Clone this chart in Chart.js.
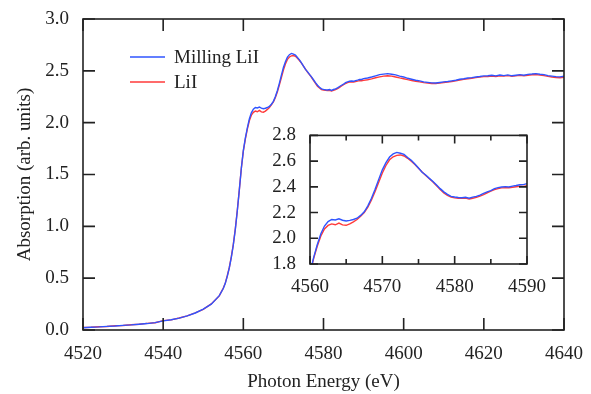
<!DOCTYPE html>
<html>
<head>
<meta charset="utf-8">
<script src="https://cdn.jsdelivr.net/npm/chart.js@4"></script>
<style>
  html, body { margin: 0; padding: 0; background: #fff; }
  #wrap { position: relative; width: 591px; height: 394px; }
  #main { position: absolute; left: 0; top: 0; }
  #inset { position: absolute; left: 270px; top: 118px; }
</style>
</head>
<body>
<div id="wrap">
  <canvas id="main" width="591" height="394"></canvas>
  <canvas id="inset" width="280" height="180"></canvas>
</div>
<script>
// photon energy (eV)
const energy = [
  4520, 4522, 4524, 4526, 4528, 4530, 4532, 4534, 4536, 4538, 4540, 4542, 4544, 4546, 4548, 4550, 4552, 4554,
  4555, 4555.5, 4556, 4556.5, 4557, 4557.5, 4558, 4558.5, 4559, 4559.5,
  4560, 4560.5, 4561, 4561.5, 4562, 4562.5, 4563, 4563.5, 4564, 4564.5,
  4565, 4565.5, 4566, 4566.5, 4567, 4567.5, 4568, 4568.5, 4569, 4569.5,
  4570, 4570.5, 4571, 4571.5, 4572, 4572.5, 4573, 4573.5, 4574, 4574.5,
  4575, 4575.5, 4576, 4576.5, 4577, 4577.5, 4578, 4578.5, 4579, 4579.5,
  4580, 4580.5, 4581, 4581.5, 4582, 4582.5, 4583, 4583.5, 4584, 4584.5,
  4585, 4585.5, 4586, 4586.5, 4587, 4587.5, 4588, 4588.5, 4589, 4589.5,
  4590, 4591, 4592, 4593, 4594, 4595, 4596, 4597, 4598, 4599,
  4600, 4601, 4602, 4603, 4604, 4605, 4606, 4607, 4608, 4609,
  4610, 4611, 4612, 4613, 4614, 4615, 4616, 4617, 4618, 4619,
  4620, 4621, 4622, 4623, 4624, 4625, 4626, 4627, 4628, 4629,
  4630, 4631, 4632, 4633, 4634, 4635, 4636, 4637, 4638, 4639, 4640
];

const millingLiI = [
  0.022, 0.027, 0.030, 0.035, 0.039, 0.045, 0.049, 0.056, 0.062, 0.071, 0.088, 0.099, 0.114, 0.137, 0.164, 0.201, 0.249, 0.331,
  0.400, 0.450, 0.520, 0.600, 0.700, 0.820, 0.970, 1.150, 1.350, 1.560,
  1.730, 1.850, 1.950, 2.035, 2.095, 2.130, 2.146, 2.142, 2.151, 2.140,
  2.134, 2.139, 2.146, 2.156, 2.178, 2.206, 2.252, 2.311, 2.382, 2.458,
  2.532, 2.588, 2.632, 2.656, 2.668, 2.661, 2.652, 2.628, 2.606, 2.577,
  2.546, 2.514, 2.492, 2.466, 2.442, 2.414, 2.386, 2.361, 2.341, 2.326,
  2.321, 2.317, 2.315, 2.319, 2.311, 2.320, 2.326, 2.336, 2.349, 2.361,
  2.371, 2.386, 2.394, 2.399, 2.402, 2.399, 2.406, 2.410, 2.416, 2.417,
  2.425, 2.431, 2.441, 2.452, 2.463, 2.468, 2.473, 2.467, 2.461, 2.449,
  2.441, 2.428, 2.419, 2.409, 2.403, 2.394, 2.389, 2.384, 2.383, 2.388,
  2.393, 2.397, 2.403, 2.409, 2.419, 2.424, 2.431, 2.435, 2.441, 2.445,
  2.451, 2.452, 2.457, 2.451, 2.459, 2.454, 2.461, 2.452, 2.458, 2.463,
  2.457, 2.466, 2.469, 2.473, 2.467, 2.463, 2.454, 2.449, 2.444, 2.442, 2.448
];

const LiI = [
  0.024, 0.026, 0.032, 0.034, 0.041, 0.044, 0.051, 0.055, 0.064, 0.070, 0.090, 0.098, 0.116, 0.136, 0.166, 0.199, 0.252, 0.329,
  0.405, 0.452, 0.523, 0.603, 0.705, 0.826, 0.975, 1.155, 1.352, 1.558,
  1.725, 1.842, 1.938, 2.018, 2.072, 2.100, 2.112, 2.105, 2.118, 2.104,
  2.101, 2.112, 2.128, 2.146, 2.172, 2.200, 2.243, 2.298, 2.364, 2.436,
  2.508, 2.566, 2.610, 2.634, 2.645, 2.648, 2.640, 2.622, 2.600, 2.574,
  2.545, 2.516, 2.488, 2.463, 2.438, 2.409, 2.380, 2.352, 2.334, 2.320,
  2.314, 2.311, 2.310, 2.312, 2.305, 2.311, 2.318, 2.328, 2.340, 2.354,
  2.366, 2.378, 2.386, 2.392, 2.394, 2.393, 2.397, 2.401, 2.405, 2.404,
  2.408, 2.414, 2.422, 2.433, 2.442, 2.449, 2.452, 2.449, 2.441, 2.432,
  2.424, 2.415, 2.407, 2.399, 2.394, 2.386, 2.382, 2.378, 2.378, 2.381,
  2.387, 2.392, 2.397, 2.403, 2.412, 2.418, 2.424, 2.429, 2.434, 2.439,
  2.444, 2.446, 2.449, 2.446, 2.451, 2.449, 2.454, 2.447, 2.452, 2.456,
  2.452, 2.458, 2.462, 2.464, 2.459, 2.454, 2.446, 2.440, 2.435, 2.433, 2.438
];

const seriesNames = ['Milling LiI', 'LiI'];

const colors = {
  blue: '#2f54ff',
  red: '#ff3a3a',
  axis: '#222222',
  text: '#222222'
};

Chart.defaults.font.family = "'Liberation Serif', 'DejaVu Serif', serif";
Chart.defaults.color = colors.text;

const toPoints = (ys) => energy.map((e, i) => ({ x: e, y: ys[i] }));

const makeDatasets = () => [
  { label: seriesNames[0], data: toPoints(millingLiI), borderColor: colors.blue, borderWidth: 1.4, pointRadius: 0 },
  { label: seriesNames[1], data: toPoints(LiI), borderColor: colors.red, borderWidth: 1.4, pointRadius: 0 }
];

// box frame + inward ticks on all four sides
const frameTicks = {
  id: 'frameTicks',
  afterDatasetsDraw(chart, args, opts) {
    const { ctx, chartArea: a } = chart;
    const { x, y } = chart.scales;
    ctx.save();
    ctx.strokeStyle = colors.axis;
    ctx.lineWidth = opts.lineWidth;
    ctx.beginPath();
    x.ticks.forEach(t => {
      const px = x.getPixelForValue(t.value);
      const len = (opts.xMajor && Math.abs(t.value % opts.xMajor) > 1e-6) ? opts.minorLen : opts.len;
      ctx.moveTo(px, a.bottom); ctx.lineTo(px, a.bottom - len);
      ctx.moveTo(px, a.top); ctx.lineTo(px, a.top + len);
    });
    y.ticks.forEach(t => {
      const py = y.getPixelForValue(t.value);
      ctx.moveTo(a.left, py); ctx.lineTo(a.left + opts.len, py);
      ctx.moveTo(a.right, py); ctx.lineTo(a.right - opts.len, py);
    });
    ctx.stroke();
    ctx.strokeRect(a.left, a.top, a.right - a.left, a.bottom - a.top);
    ctx.restore();
  }
};

const insideLegend = {
  id: 'insideLegend',
  afterDraw(chart, args, opts) {
    const ctx = chart.ctx;
    ctx.save();
    ctx.font = `${opts.fontSize}px ${Chart.defaults.font.family}`;
    ctx.textBaseline = 'middle';
    chart.data.datasets.forEach((ds, i) => {
      const yy = opts.y + i * opts.gap;
      ctx.strokeStyle = ds.borderColor;
      ctx.lineWidth = 1.6;
      ctx.beginPath();
      ctx.moveTo(opts.x, yy);
      ctx.lineTo(opts.x + opts.lineLen, yy);
      ctx.stroke();
      ctx.fillStyle = colors.text;
      ctx.fillText(ds.label, opts.x + opts.lineLen + 9, yy + 1);
    });
    ctx.restore();
  }
};

new Chart(document.getElementById('main'), {
  type: 'line',
  data: { datasets: makeDatasets() },
  options: {
    responsive: false,
    animation: false,
    devicePixelRatio: 1,
    layout: { padding: { left: 10, right: 27, top: 19, bottom: 0 } },
    plugins: {
      legend: { display: false },
      tooltip: { enabled: false },
      frameTicks: { lineWidth: 1.6, len: 12 },
      insideLegend: { x: 130, y: 57, gap: 25, lineLen: 35, fontSize: 19 }
    },
    scales: {
      x: {
        type: 'linear',
        min: 4520, max: 4640,
        grid: { display: false },
        border: { display: false },
        ticks: { stepSize: 20, padding: 5, font: { size: 19 }, maxRotation: 0, callback: v => String(v) },
        title: { display: true, text: 'Photon Energy (eV)', font: { size: 19 }, padding: { top: 4, bottom: 1 } },
        afterFit: s => { s.height = 64; }
      },
      y: {
        min: 0, max: 3,
        grid: { display: false },
        border: { display: false },
        ticks: { stepSize: 0.5, padding: 6, font: { size: 19 }, autoSkip: false, callback: v => v.toFixed(1) },
        title: { display: true, text: 'Absorption (arb. units)', font: { size: 19 }, padding: { top: 4, bottom: 4 } },
        afterFit: s => { s.width = 73; }
      }
    }
  },
  plugins: [frameTicks, insideLegend]
});

new Chart(document.getElementById('inset'), {
  type: 'line',
  data: { datasets: makeDatasets() },
  options: {
    responsive: false,
    animation: false,
    devicePixelRatio: 1,
    layout: { padding: { left: 0, right: 22, top: 14, bottom: 0 } },
    plugins: {
      legend: { display: false },
      tooltip: { enabled: false },
      frameTicks: { lineWidth: 1.6, len: 8, minorLen: 5, xMajor: 10 }
    },
    scales: {
      x: {
        type: 'linear',
        min: 4560, max: 4590,
        grid: { display: false },
        border: { display: false },
        ticks: {
          stepSize: 5, padding: 4, font: { size: 19 }, maxRotation: 0, autoSkip: false,
          callback: v => (v % 10 === 0 ? String(v) : '')
        },
        afterFit: s => { s.height = 34; }
      },
      y: {
        min: 1.8, max: 2.8,
        grid: { display: false },
        border: { display: false },
        ticks: { stepSize: 0.2, padding: 6, font: { size: 19 }, autoSkip: false, callback: v => v.toFixed(1) },
        afterFit: s => { s.width = 40; }
      }
    }
  },
  plugins: [frameTicks]
});
</script>
</body>
</html>
